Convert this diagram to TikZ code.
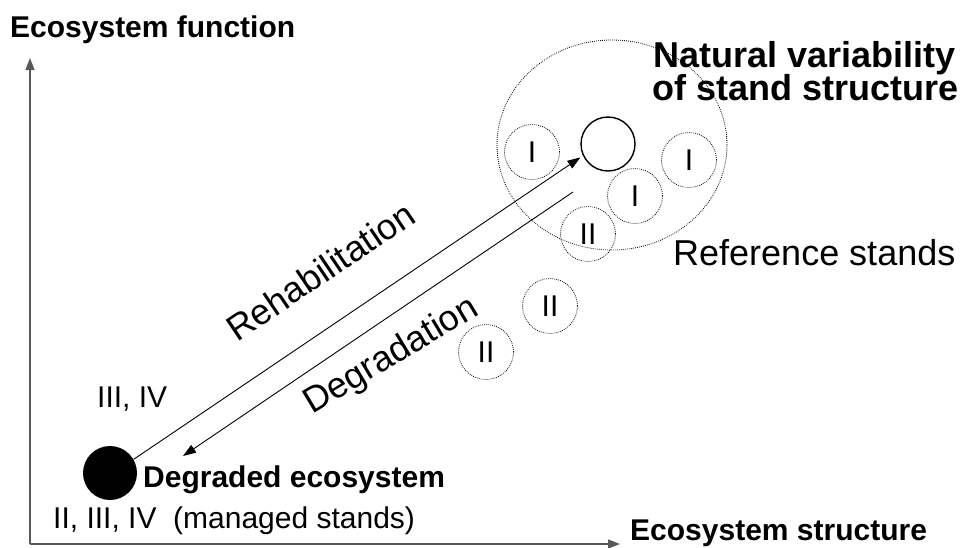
\documentclass[tikz,border=0pt]{standalone}
\usepackage{fontspec}
\setmainfont{Liberation Sans}
\usetikzlibrary{arrows.meta,shapes.geometric}
\begin{document}
\begin{tikzpicture}[x=1pt,y=-1pt,
  txt/.style={inner sep=0pt,font=\fontsize{30}{36}\selectfont},
  btxt/.style={inner sep=0pt,font=\fontsize{30}{36}\selectfont\bfseries},
  bigtxt/.style={inner sep=0pt,font=\fontsize{36}{42}\selectfont},
  bigbtxt/.style={inner sep=0pt,font=\fontsize{36}{42}\selectfont\bfseries},
  dotc/.style={circle,draw,line width=0.8pt,dash pattern=on 0.8pt off 1.2pt,minimum size=55pt,inner sep=0pt,font=\fontsize{30}{36}\selectfont},
  axis/.style={draw=black!65,line width=1.3pt,-{Triangle[length=12pt,width=9pt]}},
  arr/.style={line width=0.9pt,-{Triangle[length=13pt,width=9pt]}}]
\useasboundingbox (0,0) rectangle (964,547);
% axes
\coordinate (origin) at (30,544);
\coordinate (ytop) at (30,58);
\coordinate (xend) at (620,544);
\draw[axis] (origin) -- (ytop);
\draw[axis] (origin) -- (xend);
% big dotted region
\node[ellipse,draw,line width=0.8pt,dash pattern=on 0.8pt off 1.2pt,minimum width=230pt,minimum height=210pt,inner sep=0pt] (nat) at (612,145) {};
% reference circles
\node[circle,draw,line width=1.4pt,minimum size=54pt,inner sep=0pt] (ref) at (608,144) {};
\node[dotc] (i1) at (532,152) {I};
\node[dotc] (i2) at (689,160) {I};
\node[dotc] (i3) at (635,196) {I};
\node[dotc] (ii1) at (588,234) {II};
\node[dotc] (ii2) at (550,306) {II};
\node[dotc] (ii3) at (486,352) {II};
% degraded
\node[circle,fill=black,minimum size=54pt,inner sep=0pt] (deg) at (110,473) {};
% arrows
\draw[arr,shorten >=3pt] (deg.30) -- (ref.205);
\coordinate (dstart) at (573,192);
\coordinate (dend) at (183,456);
\draw[arr] (dstart) -- (dend);
% texts
\node[btxt,anchor=base west] (yl) at (10,37) {Ecosystem function};
\node[btxt,anchor=base west] (xl) at (630,540) {Ecosystem structure};
\node[bigbtxt,anchor=base west] (t1) at (653,67) {Natural variability};
\node[bigbtxt,anchor=base west] (t2) at (652,100) {of stand structure};
\node[bigtxt,anchor=base west] (rs) at (673,265) {Reference stands};
\node[bigtxt,anchor=base west,rotate=34] (reh) at (237,343) {Rehabilitation};
\node[bigtxt,anchor=base west,rotate=31] (degr) at (312,415) {Degradation};
\node[txt,anchor=base west] (l34) at (97,407) {III, IV};
\node[btxt,anchor=base west] (dl) at (143,487) {Degraded ecosystem};
\node[txt,anchor=base west] (l234) at (53,528) {II, III, IV};
\node[txt,anchor=base west] (ms) at (173,528) {(managed stands)};
\end{tikzpicture}
\end{document}
